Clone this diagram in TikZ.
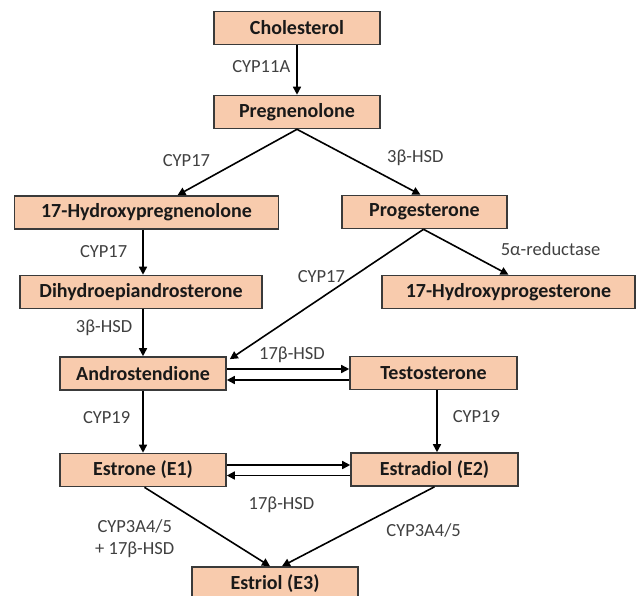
\documentclass[tikz,border=0pt]{standalone}
\usepackage{fontspec}
\setmainfont{Carlito}
\usepackage{xcolor}
\usetikzlibrary{arrows.meta}

\definecolor{boxfill}{HTML}{F8CBAD}
\definecolor{boxline}{HTML}{3A3A3A}
\definecolor{enzymegray}{HTML}{404040}

\begin{document}
\begin{tikzpicture}[x=1pt, y=-1pt, line width=1.6pt, >={Triangle[length=8pt,width=8pt]}]
  \tikzstyle{compound}=[draw=boxline, fill=boxfill, minimum width=166pt, minimum height=33pt, inner sep=0pt, text=black!90, font=\fontsize{20}{24}\selectfont\bfseries]
  \tikzstyle{enzyme}=[text=enzymegray, font=\fontsize{18.5}{22.5}\selectfont, inner sep=2pt, align=center]

  \useasboundingbox (0,0) rectangle (636,595);

  \node[compound]                     (chol)      at (297,28)    {Cholesterol};
  \node[compound]                     (preg)      at (297,112)   {Pregnenolone};
  \node[compound, minimum width=264pt] (hpreg)    at (146.5,212.5) {17-Hydroxypregnenolone};
  \node[compound, minimum width=165pt] (prog)     at (424.5,212) {Progesterone};
  \node[compound, minimum width=242pt] (dhea)     at (141,292)   {Dihydroepiandrosterone};
  \node[compound, minimum width=253pt] (hprog)    at (508.5,292) {17-Hydroxyprogesterone};
  \node[compound]                     (andro)     at (143,373.5) {Androstendione};
  \node[compound, minimum width=167pt] (testo)    at (433.5,373) {Testosterone};
  \node[compound]                     (estrone)   at (143,470)   {Estrone (E1)};
  \node[compound, minimum width=167pt] (estradiol) at (434.5,469.5) {Estradiol (E2)};
  \node[compound, minimum height=34pt] (estriol)  at (275,584)   {Estriol (E3)};

  \path[->]
  (chol) edge node[enzyme, left=4pt, pos=0.43] (cyp11a) {CYP11A} (preg)
  (preg.south) edge node[enzyme, left=28pt, pos=0.47] (cyp17a) {CYP17} ([xshift=31pt]hpreg.north)
  (preg.south) edge node[enzyme, right=33pt, pos=0.44] (hsd3a) {3β-HSD} ([xshift=-4pt]prog.north)
  ([xshift=-3.5pt]hpreg.south) edge node[enzyme, left=13pt, pos=0.49] (cyp17b) {CYP17} ([xshift=2pt]dhea.north)
  ([xshift=2pt]dhea.south) edge node[enzyme, left=8pt, pos=0.4] (hsd3b) {3β-HSD} (andro.north)
  ([xshift=-1pt]prog.south) edge node[enzyme, left=6pt, pos=0.36] (cyp17c) {CYP17} ([xshift=3pt,yshift=-3pt]andro.north east)
  ([xshift=-1pt]prog.south) edge node[enzyme, right=38pt, pos=0.43] (reduct) {5α-reductase} (hprog.north)
  ([yshift=4.5pt]andro.east) edge node[enzyme, above=4pt, xshift=4pt] (hsd17a) {17β-HSD} ([yshift=4.5pt]andro.east -| testo.west)
  ([yshift=-7pt]testo.west) edge ([yshift=-7pt]testo.west -| andro.east)
  (andro) edge node[enzyme, left=10pt, pos=0.44] (cyp19a) {CYP19} (estrone)
  ([xshift=3.5pt]testo.south) edge node[enzyme, right=13pt, pos=0.43] (cyp19b) {CYP19} ([xshift=2.5pt]estradiol.north)
  ([yshift=5pt]estrone.east) edge ([yshift=5pt]estrone.east -| estradiol.west)
  ([yshift=-6pt]estradiol.west) edge node[enzyme, below=19pt, xshift=-7pt] (hsd17b) {17β-HSD} ([yshift=-6pt]estradiol.west -| estrone.east)
  ([xshift=1.5pt]estrone.south) edge node[enzyme, left=49pt, pos=0.65] (cyp3a) {CYP3A4/5\\+ 17β-HSD} ([xshift=-5pt]estriol.north)
  (estradiol.south) edge node[enzyme, right=33pt, pos=0.55] (cyp3b) {CYP3A4/5} ([xshift=7pt]estriol.north);
\end{tikzpicture}
\end{document}
